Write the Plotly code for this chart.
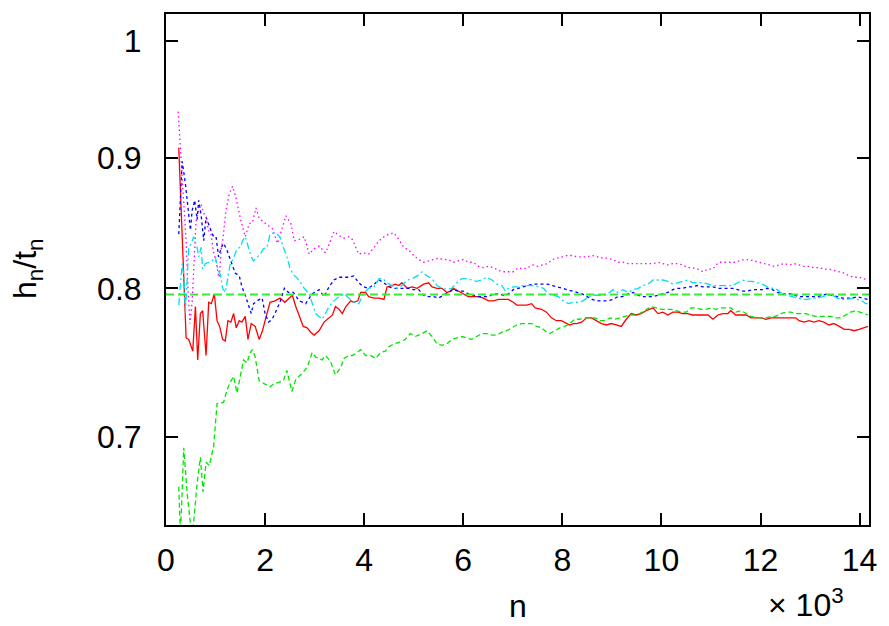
import plotly.graph_objects as go
import math

# ---------------- data (n in units of 10^3, ratio h_n/t_n) ----------------
red_n = [0.258,0.406,0.459,0.54,0.594,0.64,0.694,0.74,0.809,0.862,
         0.915,0.976,1.03,1.083,1.143,1.197,1.25,1.31,1.365,1.418,
         1.478,1.53,1.6,1.654,1.72,1.8,1.88,1.948,2.0,2.1,
         2.2,2.3,2.4,2.55,2.62,2.69,2.77,2.85,2.92,2.99,
         3.09,3.19,3.29,3.36,3.42,3.49,3.56,3.63,3.73,3.79,
         3.87,3.93,4.03,4.09,4.2,4.3,4.4,4.46,4.56,4.63,
         4.7,4.76,4.87,4.97,5.07,5.2,5.3,5.37,5.47,5.57,
         5.67,5.74,5.8,5.9,6.0,6.1,6.2,6.31,6.41,6.51,
         6.61,6.71,6.81,6.91,7.01,7.08,7.18,7.28,7.38,7.45,
         7.58,7.68,7.78,7.88,7.98,8.08,8.15,8.22,8.29,8.39,
         8.49,8.59,8.69,8.79,8.89,8.99,9.09,9.19,9.29,9.39,
         9.49,9.59,9.69,9.83,9.93,10.03,10.13,10.23,10.33,10.43,
         10.53,10.63,10.73,10.84,10.94,11.04,11.14,11.24,11.34,11.4,
         11.5,11.61,11.71,11.81,11.91,12.01,12.11,12.21,12.31,12.41,
         12.51,12.61,12.71,12.78,12.88,12.98,13.08,13.18,13.28,13.38,
         13.48,13.59,13.69,13.79,13.89,13.99,14.09,14.17]
red_v = [0.908,0.765,0.764,0.756,0.787,0.750,0.782,0.784,0.753,0.790,
         0.789,0.796,0.777,0.773,0.764,0.763,0.777,0.776,0.782,0.772,
         0.777,0.776,0.780,0.764,0.775,0.773,0.764,0.770,0.777,0.790,
         0.791,0.793,0.790,0.795,0.787,0.780,0.773,0.772,0.769,0.767,
         0.770,0.776,0.779,0.781,0.787,0.785,0.782,0.787,0.791,0.790,
         0.791,0.797,0.797,0.794,0.793,0.793,0.792,0.801,0.802,0.803,
         0.802,0.804,0.800,0.801,0.800,0.803,0.804,0.801,0.800,0.800,
         0.797,0.798,0.800,0.798,0.796,0.794,0.794,0.794,0.793,0.791,
         0.791,0.792,0.792,0.792,0.790,0.788,0.788,0.788,0.789,0.786,
         0.785,0.783,0.779,0.777,0.777,0.775,0.774,0.775,0.775,0.776,
         0.779,0.779,0.777,0.775,0.774,0.775,0.774,0.773,0.778,0.782,
         0.781,0.782,0.784,0.786,0.782,0.783,0.781,0.783,0.783,0.782,
         0.782,0.781,0.781,0.781,0.781,0.778,0.781,0.782,0.782,0.784,
         0.781,0.781,0.781,0.779,0.779,0.779,0.778,0.779,0.779,0.779,
         0.779,0.779,0.779,0.777,0.776,0.777,0.776,0.777,0.776,0.774,
         0.775,0.773,0.771,0.771,0.770,0.771,0.772,0.773]

green_n = [0.258,0.292,0.358,0.427,0.527,0.628,0.694,0.748,0.809,0.875,
           0.962,1.03,1.163,1.231,1.298,1.364,1.433,1.5,1.565,1.634,
           1.7,1.746,1.8,1.88,2.0,2.1,2.17,2.26,2.37,2.44,
           2.54,2.62,2.69,2.75,2.85,2.95,3.02,3.15,3.22,3.32,
           3.42,3.53,3.59,3.69,3.76,3.86,3.93,4.03,4.13,4.23,
           4.33,4.43,4.5,4.6,4.7,4.83,4.93,5.03,5.17,5.27,
           5.37,5.47,5.57,5.67,5.77,5.87,5.97,6.07,6.17,6.27,
           6.37,6.47,6.58,6.68,6.78,6.88,6.98,7.08,7.18,7.28,
           7.38,7.48,7.58,7.68,7.75,7.85,7.95,8.05,8.15,8.25,
           8.35,8.45,8.56,8.66,8.76,8.86,8.96,9.06,9.16,9.26,
           9.36,9.46,9.56,9.66,9.79,9.9,10.0,10.1,10.2,10.3,
           10.4,10.5,10.6,10.7,10.8,10.9,11.0,11.1,11.2,11.3,
           11.4,11.5,11.61,11.71,11.81,11.91,12.01,12.11,12.21,12.31,
           12.41,12.51,12.61,12.71,12.81,12.91,13.01,13.11,13.22,13.32,
           13.42,13.52,13.62,13.72,13.82,13.92,14.02,14.12,14.17]
green_v = [0.669,0.640,0.693,0.665,0.638,0.671,0.687,0.666,0.684,0.682,
           0.694,0.721,0.722,0.730,0.735,0.739,0.728,0.739,0.750,0.748,
           0.755,0.757,0.752,0.736,0.734,0.732,0.734,0.735,0.736,0.743,
           0.729,0.737,0.739,0.741,0.745,0.755,0.752,0.750,0.753,0.749,
           0.740,0.745,0.751,0.753,0.753,0.755,0.757,0.753,0.753,0.751,
           0.755,0.756,0.759,0.761,0.762,0.764,0.768,0.766,0.768,0.770,
           0.766,0.761,0.760,0.761,0.764,0.765,0.766,0.765,0.764,0.766,
           0.768,0.768,0.767,0.767,0.769,0.770,0.772,0.774,0.775,0.775,
           0.775,0.773,0.772,0.769,0.768,0.770,0.772,0.773,0.775,0.778,
           0.778,0.779,0.779,0.779,0.777,0.777,0.779,0.778,0.779,0.780,
           0.781,0.781,0.782,0.784,0.787,0.786,0.785,0.785,0.785,0.784,
           0.783,0.783,0.786,0.786,0.785,0.785,0.786,0.785,0.786,0.786,
           0.786,0.783,0.784,0.782,0.780,0.779,0.779,0.779,0.780,0.780,
           0.782,0.783,0.783,0.782,0.782,0.782,0.781,0.780,0.780,0.780,
           0.780,0.779,0.779,0.781,0.783,0.784,0.783,0.782,0.781]

blue_n = [0.258,0.326,0.392,0.447,0.493,0.527,0.579,0.628,0.66,0.714,
          0.761,0.809,0.861,0.915,0.962,1.01,1.062,1.117,1.163,1.231,
          1.278,1.332,1.398,1.479,1.533,1.6,1.666,1.72,1.767,1.84,
          1.94,2.0,2.07,2.14,2.2,2.3,2.39,2.47,2.57,2.69,
          2.82,2.95,3.09,3.19,3.29,3.39,3.49,3.59,3.69,3.79,
          3.89,3.99,4.09,4.2,4.3,4.4,4.5,4.6,4.7,4.8,
          4.9,5.0,5.1,5.2,5.3,5.4,5.5,5.6,5.7,5.8,
          5.9,6.0,6.1,6.2,6.31,6.41,6.51,6.61,6.71,6.81,
          6.91,7.01,7.11,7.21,7.3,7.4,7.5,7.6,7.7,7.8,
          7.9,8.0,8.1,8.2,8.3,8.4,8.5,8.6,8.72,8.82,
          8.92,9.02,9.12,9.22,9.33,9.43,9.53,9.63,9.73,9.83,
          9.93,10.03,10.13,10.23,10.33,10.43,10.53,10.63,10.73,10.84,
          10.94,11.04,11.14,11.24,11.34,11.44,11.54,11.64,11.74,11.84,
          11.94,12.04,12.14,12.24,12.34,12.44,12.55,12.65,12.75,12.85,
          12.95,13.05,13.15,13.25,13.35,13.45,13.55,13.65,13.75,13.85,
          13.95,14.05,14.17]
blue_v = [0.840,0.897,0.879,0.858,0.843,0.858,0.866,0.851,0.866,0.853,
          0.835,0.853,0.847,0.842,0.838,0.838,0.823,0.830,0.833,0.828,
          0.823,0.818,0.811,0.809,0.801,0.795,0.787,0.782,0.789,0.791,
          0.793,0.782,0.776,0.778,0.782,0.790,0.800,0.797,0.797,0.791,
          0.789,0.796,0.799,0.794,0.801,0.806,0.808,0.808,0.808,0.809,
          0.804,0.801,0.800,0.803,0.806,0.804,0.801,0.800,0.800,0.800,
          0.800,0.799,0.799,0.795,0.794,0.794,0.793,0.795,0.797,0.799,
          0.798,0.798,0.796,0.795,0.794,0.794,0.794,0.796,0.796,0.795,
          0.796,0.799,0.800,0.801,0.802,0.803,0.803,0.803,0.803,0.802,
          0.801,0.800,0.799,0.798,0.797,0.796,0.794,0.792,0.791,0.791,
          0.791,0.792,0.794,0.794,0.796,0.797,0.795,0.794,0.794,0.794,
          0.795,0.796,0.797,0.799,0.800,0.800,0.801,0.801,0.802,0.801,
          0.801,0.801,0.800,0.800,0.800,0.800,0.799,0.798,0.798,0.799,
          0.799,0.799,0.800,0.799,0.797,0.796,0.796,0.796,0.794,0.794,
          0.794,0.794,0.794,0.795,0.796,0.795,0.794,0.793,0.793,0.793,
          0.794,0.793,0.792]

magenta_n = [0.245,0.292,0.358,0.406,0.443,0.483,0.527,0.573,0.608,0.66,
             0.708,0.761,0.809,0.855,0.909,0.962,1.01,1.056,1.076,1.117,
             1.143,1.211,1.278,1.344,1.412,1.513,1.6,1.68,1.746,1.815,
             1.881,1.98,2.05,2.15,2.25,2.35,2.42,2.52,2.59,2.69,
             2.79,2.89,2.99,3.09,3.15,3.22,3.3,3.39,3.49,3.59,
             3.69,3.76,3.83,3.89,3.99,4.09,4.2,4.3,4.4,4.5,
             4.6,4.7,4.8,4.9,5.0,5.1,5.2,5.3,5.4,5.5,
             5.6,5.7,5.8,5.9,6.0,6.1,6.2,6.31,6.41,6.51,
             6.61,6.71,6.81,6.91,7.01,7.11,7.21,7.3,7.4,7.5,
             7.6,7.7,7.8,7.9,8.0,8.1,8.2,8.3,8.4,8.5,
             8.6,8.72,8.82,8.92,9.02,9.12,9.22,9.33,9.43,9.53,
             9.63,9.73,9.83,9.93,10.03,10.13,10.23,10.33,10.43,10.53,
             10.63,10.73,10.84,10.94,11.04,11.1,11.17,11.27,11.37,11.47,
             11.57,11.67,11.77,11.88,11.98,12.08,12.18,12.28,12.38,12.48,
             12.58,12.68,12.78,12.88,12.98,13.08,13.18,13.28,13.38,13.48,
             13.59,13.69,13.79,13.89,13.99,14.09,14.17]
magenta_v = [0.938,0.905,0.866,0.835,0.800,0.775,0.790,0.820,0.850,0.858,
             0.863,0.856,0.853,0.843,0.840,0.826,0.820,0.810,0.808,0.830,
             0.835,0.858,0.871,0.877,0.868,0.850,0.838,0.848,0.849,0.860,
             0.852,0.849,0.847,0.844,0.833,0.845,0.854,0.848,0.835,0.836,
             0.838,0.825,0.829,0.831,0.829,0.826,0.833,0.842,0.839,0.837,
             0.838,0.836,0.830,0.825,0.826,0.825,0.830,0.835,0.838,0.840,
             0.841,0.836,0.830,0.828,0.824,0.821,0.819,0.820,0.821,0.822,
             0.821,0.821,0.819,0.820,0.821,0.819,0.819,0.816,0.815,0.816,
             0.815,0.813,0.812,0.812,0.812,0.815,0.814,0.815,0.817,0.816,
             0.817,0.818,0.821,0.822,0.823,0.824,0.824,0.823,0.823,0.823,
             0.824,0.823,0.822,0.822,0.821,0.819,0.819,0.818,0.818,0.818,
             0.818,0.818,0.818,0.819,0.818,0.817,0.818,0.818,0.817,0.815,
             0.815,0.814,0.812,0.814,0.814,0.817,0.819,0.819,0.819,0.819,
             0.820,0.821,0.821,0.820,0.819,0.818,0.817,0.816,0.817,0.818,
             0.817,0.818,0.817,0.816,0.816,0.815,0.815,0.814,0.814,0.813,
             0.812,0.811,0.809,0.808,0.808,0.807,0.806]

cyan_n = [0.258,0.326,0.362,0.392,0.459,0.513,0.559,0.628,0.66,0.708,
          0.74,0.795,0.861,0.93,0.996,1.05,1.097,1.143,1.197,1.251,
          1.298,1.364,1.433,1.5,1.545,1.6,1.666,1.72,1.767,1.835,
          1.9,1.968,2.04,2.1,2.17,2.24,2.3,2.37,2.44,2.5,
          2.57,2.66,2.79,2.89,2.95,3.02,3.09,3.15,3.22,3.29,
          3.39,3.49,3.59,3.69,3.79,3.89,3.99,4.09,4.2,4.3,
          4.38,4.46,4.56,4.66,4.76,4.87,4.97,5.07,5.17,5.27,
          5.37,5.47,5.57,5.67,5.77,5.87,5.97,6.07,6.17,6.27,
          6.37,6.47,6.58,6.68,6.78,6.85,6.91,7.01,7.11,7.21,
          7.31,7.41,7.52,7.62,7.72,7.82,7.92,8.02,8.12,8.22,
          8.32,8.42,8.52,8.62,8.72,8.82,8.92,9.02,9.12,9.22,
          9.33,9.43,9.53,9.63,9.73,9.83,9.93,10.03,10.13,10.23,
          10.33,10.43,10.53,10.63,10.73,10.84,10.94,11.04,11.14,11.24,
          11.34,11.44,11.54,11.64,11.74,11.84,11.94,12.04,12.14,12.24,
          12.34,12.44,12.55,12.65,12.75,12.85,12.95,13.05,13.15,13.25,
          13.35,13.45,13.55,13.65,13.75,13.85,13.95,14.05,14.12,14.17]
cyan_v = [0.788,0.818,0.808,0.782,0.830,0.833,0.838,0.830,0.823,0.830,
          0.814,0.818,0.819,0.820,0.823,0.813,0.810,0.800,0.797,0.810,
          0.818,0.822,0.829,0.830,0.835,0.838,0.830,0.823,0.820,0.823,
          0.825,0.829,0.830,0.840,0.841,0.840,0.838,0.830,0.823,0.815,
          0.810,0.807,0.800,0.796,0.789,0.782,0.780,0.778,0.782,0.787,
          0.791,0.794,0.796,0.793,0.790,0.789,0.796,0.800,0.801,0.807,
          0.807,0.804,0.802,0.800,0.802,0.806,0.807,0.809,0.812,0.809,
          0.807,0.802,0.800,0.799,0.800,0.804,0.807,0.807,0.806,0.805,
          0.806,0.808,0.806,0.803,0.802,0.798,0.800,0.801,0.801,0.802,
          0.802,0.802,0.801,0.800,0.796,0.795,0.794,0.791,0.789,0.790,
          0.790,0.791,0.794,0.795,0.795,0.795,0.796,0.799,0.797,0.799,
          0.797,0.799,0.800,0.802,0.803,0.806,0.806,0.806,0.805,0.803,
          0.804,0.805,0.806,0.804,0.804,0.804,0.803,0.802,0.802,0.802,
          0.802,0.802,0.804,0.806,0.805,0.805,0.804,0.803,0.801,0.800,
          0.799,0.796,0.795,0.794,0.793,0.792,0.792,0.793,0.793,0.794,
          0.795,0.795,0.793,0.792,0.792,0.793,0.792,0.791,0.789,0.789]

REF_VALUE = 0.7955
X_RANGE = [0.0, 14.19]
Y_RANGE = [0.6464, 1.0242]
x_ticks = [0, 2, 4, 6, 8, 10, 12, 14]
y_ticks = [0.7, 0.8, 0.9, 1.0]
y_tick_labels = ["0.7", "0.8", "0.9", "1"]

for a, b in [(red_n, red_v), (green_n, green_v), (blue_n, blue_v),
             (magenta_n, magenta_v), (cyan_n, cyan_v)]:
    assert len(a) == len(b), (len(a), len(b))

# ---------------- figure ----------------
FONT = "Liberation Sans, Arial, Helvetica, sans-serif"
fig = go.Figure()

series = [
    (red_n, red_v, "#ff0000", "solid"),
    (green_n, green_v, "#00e600", "5px,3px"),
    (blue_n, blue_v, "#0000ff", "3px,3px"),
    (magenta_n, magenta_v, "#ff00ff", "1.5px,3px"),
    (cyan_n, cyan_v, "#00e0ee", "7px,3px,2px,3px"),
]
for xs, ys, col, dash in series:
    fig.add_trace(go.Scatter(x=xs, y=ys, mode="lines",
                             line=dict(color=col, width=1.3, dash=dash),
                             showlegend=False, hoverinfo="skip"))

fig.add_trace(go.Scatter(x=X_RANGE, y=[REF_VALUE, REF_VALUE], mode="lines",
                         line=dict(color="#33ee33", width=2, dash="8px,4px"),
                         showlegend=False, hoverinfo="skip"))

axis_common = dict(showline=True, linecolor="black", linewidth=2, mirror="ticks",
                   ticks="inside", ticklen=12, tickwidth=2, tickcolor="black",
                   showgrid=False, zeroline=False,
                   tickfont=dict(family=FONT, size=32, color="black"))

fig.update_xaxes(range=X_RANGE, tickvals=x_ticks, ticklabelstandoff=6, **axis_common)
fig.update_yaxes(type="log", range=[math.log10(Y_RANGE[0]), math.log10(Y_RANGE[1])],
                 tickvals=y_ticks, ticktext=y_tick_labels, ticklabelstandoff=16,
                 **axis_common)

fig.update_layout(
    width=889, height=626,
    margin=dict(l=166, r=17, t=13, b=101),
    paper_bgcolor="white", plot_bgcolor="white",
    font=dict(family=FONT, size=32, color="black"),
    annotations=[
        dict(text="n", xref="paper", yref="paper", x=0.5, y=-0.158,
             xanchor="center", yanchor="middle", showarrow=False,
             font=dict(family=FONT, size=32, color="black")),
        dict(text="\u00d7 10<sup>3</sup>", xref="paper", yref="paper",
             x=0.853, y=-0.152, xanchor="left", yanchor="middle", showarrow=False,
             font=dict(family=FONT, size=32, color="black")),
        dict(text="h<sub>n</sub>/t<sub>n</sub>", xref="paper", yref="paper",
             x=-0.197, y=0.5, xanchor="center", yanchor="middle", textangle=-90,
             showarrow=False, font=dict(family=FONT, size=32, color="black")),
    ],
)

fig.write_html("out.html",
               config={"displayModeBar": False},
               post_script="document.body.style.margin='0';document.body.style.overflow='hidden';")
